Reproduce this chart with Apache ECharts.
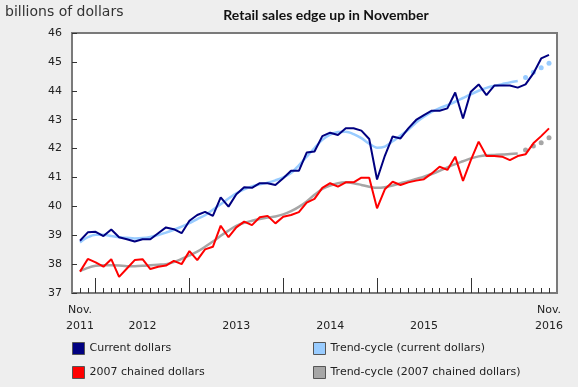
<!DOCTYPE html>
<html><head><meta charset="utf-8">
<script src="https://cdn.jsdelivr.net/npm/echarts@6/dist/echarts.min.js"></script>
<style>html,body{margin:0;padding:0;background:#eeeeee;}#c{width:578px;height:387px;}</style>
</head><body><div id="c"></div>
<script>
// Months Nov 2011 .. Nov 2016
const monthNames = ['Jan','Feb','Mar','Apr','May','Jun','Jul','Aug','Sep','Oct','Nov','Dec'];
const categories = [];
for (let k = 0; k < 61; k++) { const m = (10 + k) % 12; const y = 2011 + Math.floor((10 + k) / 12); categories.push(monthNames[m] + ' ' + y); }

const currentDollars = [
  38.81, 39.10, 39.12, 38.97, 39.20, 38.93, 38.86, 38.78, 38.86, 38.86, 39.07, 39.27,
  39.21, 39.07, 39.50, 39.70, 39.81, 39.67, 40.31, 39.99, 40.42, 40.66, 40.64, 40.80,
  40.80, 40.74, 40.97, 41.23, 41.23, 41.86, 41.90, 42.43, 42.55, 42.47, 42.70, 42.70,
  42.62, 42.33, 40.93, 41.75, 42.42, 42.35, 42.70, 42.99, 43.16, 43.31, 43.31, 43.39,
  43.94, 43.04, 43.97, 44.22, 43.85, 44.18, 44.18, 44.18, 44.11, 44.22, 44.60, 45.12,
  45.24
];
const trendCurrent = [
  38.75, 38.93, 39.02, 39.02, 38.97, 38.93, 38.91, 38.89, 38.90, 38.94, 39.01, 39.09,
  39.19, 39.30, 39.42, 39.56, 39.69, 39.88, 40.07, 40.27, 40.45, 40.59, 40.69, 40.76,
  40.82, 40.90, 41.00, 41.15, 41.42, 41.72, 42.02, 42.30, 42.48, 42.57, 42.58, 42.50,
  42.36, 42.17, 42.03, 42.07, 42.25, 42.45, 42.65, 42.90, 43.10, 43.27, 43.40, 43.50,
  43.62, 43.75, 43.88, 44.00, 44.10, 44.17, 44.23, 44.29, 44.34
];
const trendCurrentDots = [44.46, 44.64, 44.80, 44.95];
const chainedDollars = [
  37.74, 38.18, 38.06, 37.91, 38.17, 37.56, 37.85, 38.14, 38.17, 37.83, 37.91, 37.95,
  38.11, 38.00, 38.45, 38.14, 38.51, 38.60, 39.33, 38.93, 39.27, 39.47, 39.35, 39.62,
  39.67, 39.41, 39.64, 39.70, 39.80, 40.13, 40.26, 40.64, 40.80, 40.68, 40.83, 40.83,
  40.99, 40.99, 39.93, 40.59, 40.85, 40.74, 40.83, 40.89, 40.94, 41.14, 41.37, 41.26,
  41.72, 40.88, 41.60, 42.24, 41.74, 41.74, 41.72, 41.60, 41.74, 41.80, 42.18, 42.43,
  42.70
];
const trendChained = [
  37.76, 37.87, 37.94, 37.96, 37.96, 37.95, 37.93, 37.93, 37.94, 37.96, 37.98, 38.00,
  38.07, 38.18, 38.30, 38.43, 38.60, 38.78, 38.98, 39.16, 39.32, 39.43, 39.50, 39.56,
  39.61, 39.65, 39.72, 39.83, 39.98, 40.17, 40.40, 40.60, 40.72, 40.80, 40.83, 40.80,
  40.74, 40.68, 40.64, 40.66, 40.72, 40.80, 40.87, 40.95, 41.03, 41.12, 41.23, 41.35,
  41.46, 41.56, 41.66, 41.73, 41.77, 41.78, 41.79, 41.81, 41.83
];
const trendChainedDots = [41.95, 42.09, 42.20, 42.37];

const yMin = 37, yMax = 46, yStep = 1;
const xLabelIndex = [0, 8, 20, 32, 44, 60];
const xLabelText = ['Nov.\n2011', '\n2012', '\n2013', '\n2014', '\n2015', 'Nov.\n2016'];
const majorTickIndex = [2, 14, 26, 38, 50];

const names = ['Current dollars', '2007 chained dollars', 'Trend-cycle (current dollars)', 'Trend-cycle (2007 chained dollars)'];
const colors = { cur: '#000080', chain: '#ff0000', tcur: '#99ccff', tchain: '#a6a6a6' };

function padDots(base, dots) { return base.map(() => null).concat(dots); }

const font = 'DejaVu Sans';
const chart = echarts.init(document.getElementById('c'), null, { renderer: 'canvas' });
const gridPos = { left: 80, right: 29, top: 33, bottom: 94 };
const legendBase = { orient: 'vertical', itemGap: 11, padding: 0, height: 44, width: 240,
  itemWidth: 12, itemHeight: 12, icon: 'rect',
  itemStyle: { borderColor: '#555', borderWidth: 1 },
  textStyle: { fontFamily: font, fontSize: 11, color: '#222' } };
chart.setOption({
  backgroundColor: '#eeeeee',
  animation: false,
  title: [
    { text: 'Retail sales edge up in November', left: 321, top: 3, textAlign: 'center',
      textStyle: { fontFamily: 'Lato', fontWeight: 'bold', fontSize: 14, color: '#111' } },
    { text: 'billions of dollars', left: 0, top: 0,
      textStyle: { fontFamily: font, fontWeight: 'normal', fontSize: 14, color: '#333' } }
  ],
  graphic: [
    { type: 'rect', z: -1, shape: { x: 72, y: 33, width: 485, height: 260 },
      style: { fill: '#ffffff', stroke: '#7a7a7a', lineWidth: 2 } }
  ],
  legend: [
    Object.assign({ data: [names[0], names[1]], left: 72, top: 342 }, legendBase),
    Object.assign({ data: [names[2], names[3]], left: 313, top: 342 }, legendBase)
  ],
  grid: [ Object.assign({}, gridPos), Object.assign({}, gridPos) ],
  xAxis: [
    { type: 'category', gridIndex: 0, data: categories, boundaryGap: false,
      axisLine: { show: false },
      axisTick: { show: true, inside: true, length: 5, interval: 0, lineStyle: { color: '#333', width: 1 } },
      axisLabel: { interval: (i) => xLabelIndex.includes(i), margin: 9, lineHeight: 16,
        fontFamily: font, fontSize: 11, color: '#222',
        formatter: (v, i) => xLabelText[xLabelIndex.indexOf(i)] } },
    { type: 'category', gridIndex: 1, data: categories, boundaryGap: false,
      axisLine: { show: false },
      axisTick: { show: true, inside: true, length: 15, interval: (i) => majorTickIndex.includes(i), lineStyle: { color: '#333', width: 1 } },
      axisLabel: { show: false } }
  ],
  yAxis: [
    { type: 'value', gridIndex: 0, min: yMin, max: yMax, interval: yStep, offset: 8,
      axisLine: { show: false }, splitLine: { show: false },
      axisTick: { show: true, inside: true, length: 5, lineStyle: { color: '#333' } },
      axisLabel: { margin: 10, fontFamily: font, fontSize: 11, color: '#222' } },
    { type: 'value', gridIndex: 1, min: yMin, max: yMax, show: false, splitLine: { show: false } }
  ],
  series: [
    { name: names[2], type: 'line', data: trendCurrent, showSymbol: false, symbol: 'none', smooth: 0.3,
      color: colors.tcur, lineStyle: { width: 2.5, color: colors.tcur }, z: 2 },
    { name: names[3], type: 'line', data: trendChained, showSymbol: false, symbol: 'none', smooth: 0.3,
      color: colors.tchain, lineStyle: { width: 2.5, color: colors.tchain }, z: 2 },
    { name: 'tcurDots', type: 'line', data: padDots(trendCurrent, trendCurrentDots), symbol: 'circle', symbolSize: 5,
      showSymbol: true, itemStyle: { color: colors.tcur }, lineStyle: { width: 0, opacity: 0 }, z: 2 },
    { name: 'tchainDots', type: 'line', data: padDots(trendChained, trendChainedDots), symbol: 'circle', symbolSize: 5,
      showSymbol: true, itemStyle: { color: colors.tchain }, lineStyle: { width: 0, opacity: 0 }, z: 2 },
    { name: names[0], type: 'line', data: currentDollars, showSymbol: false, symbol: 'none',
      color: colors.cur, lineStyle: { width: 2, color: colors.cur }, z: 3 },
    { name: names[1], type: 'line', data: chainedDollars, showSymbol: false, symbol: 'none',
      color: colors.chain, lineStyle: { width: 2, color: colors.chain }, z: 3 }
  ]
});
</script></body></html>
